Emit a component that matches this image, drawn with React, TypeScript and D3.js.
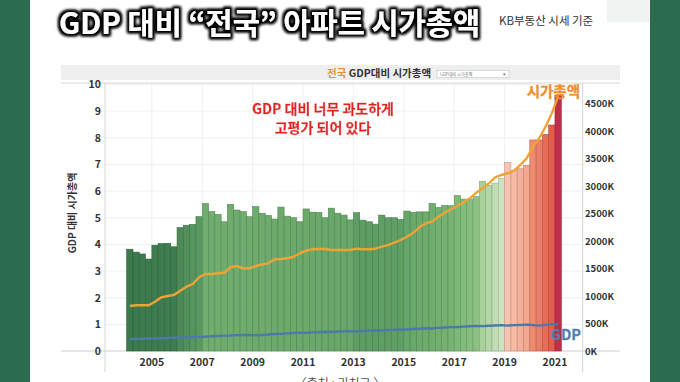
import React from 'react';
import * as d3 from 'd3';

const START_YEAR = 2004;

// GDP 대비 시가총액 (quarterly, 2004Q1 .. 2021Q1)
const ratio = [
  3.82, 3.71, 3.64, 3.45,
  3.97, 4.03, 4.04, 3.91,
  4.63, 4.72, 4.75, 5.04,
  5.54, 5.23, 5.13, 4.85,
  5.50, 5.29, 5.23, 5.04,
  5.42, 5.17, 5.08, 4.95,
  5.40, 5.06, 5.00, 4.85,
  5.33, 5.21, 5.20, 5.00,
  5.36, 5.17, 5.10, 4.92,
  5.19, 4.91, 4.85, 4.76,
  5.10, 5.00, 5.00, 4.94,
  5.25, 5.20, 5.22, 5.22,
  5.54, 5.38, 5.46, 5.45,
  5.83, 5.70, 5.69, 5.79,
  6.37, 6.22, 6.30, 6.48,
  7.07, 6.77, 6.84, 6.97,
  7.92, 7.92, 8.13, 8.48,
  9.60,
];

// 시가총액 (K)
const marketCap = [
  818, 831, 831, 831,
  896, 976, 1000, 1018,
  1096, 1169, 1218, 1340,
  1400, 1400, 1413, 1423,
  1522, 1545, 1504, 1504,
  1545, 1576, 1594, 1667,
  1673, 1685, 1714, 1776,
  1823, 1849, 1854, 1854,
  1836, 1836, 1836, 1836,
  1860, 1849, 1849, 1860,
  1896, 1927, 1969, 2018,
  2078, 2151, 2249, 2322,
  2351, 2442, 2514, 2576,
  2636, 2703, 2776, 2878,
  2958, 3049, 3158, 3200,
  3231, 3278, 3382, 3503,
  3714, 3867, 4078, 4321,
  4636,
];

// GDP (K)
const gdp = [
  214, 218, 222, 226,
  228, 232, 236, 240,
  240, 246, 250, 256,
  262, 268, 274, 280,
  282, 288, 292, 290,
  284, 292, 300, 308,
  312, 320, 326, 332,
  330, 338, 344, 350,
  346, 352, 356, 362,
  358, 364, 370, 378,
  374, 382, 386, 394,
  390, 400, 406, 414,
  410, 420, 426, 434,
  436, 444, 450, 456,
  452, 460, 464, 470,
  462, 470, 474, 480,
  470, 462, 476, 488,
  484,
];

const yearTicks = [2005, 2007, 2009, 2011, 2013, 2015, 2017, 2019, 2021];
const leftTicks = [0, 1, 2, 3, 4, 5, 6, 7, 8, 9, 10];
const rightTicks = [0, 500, 1000, 1500, 2000, 2500, 3000, 3500, 4000, 4500];

const titleText = 'GDP 대비 “전국” 아파트 시가총액';
const subText = 'KB부동산 시세 기준';
const noteLines = ['GDP 대비 너무 과도하게', '고평가 되어 있다'];

// colour ramp along the bars (style)
const colorStopIdx = [0, 7, 8, 11, 12, 24, 35, 36, 43, 44, 51, 52, 55, 56, 59, 60, 63, 64, 67, 68];
const colorStops = [
  '#3a7a4c', '#3d7d4f', '#4c8b58', '#5a9a61', '#6fae6f', '#6dab6c', '#68a76a', '#5e9e62',
  '#5f9f63', '#66a668', '#77b472', '#7eb978', '#8bc282', '#a9d19b', '#cbe3c0', '#f8c4b0',
  '#f4a68e', '#ef8b71', '#e35d4c', '#bd3049',
];

const FONT = "'Noto Sans CJK KR', 'Noto Sans', sans-serif";

export default function App() {
  const W = 680;
  const H = 382;
  const x = d3.scaleLinear().domain([2003.14, 2022.1]).range([105, 582.7]);
  const yL = d3.scaleLinear().domain([0, 10]).range([351, 84.5]);
  const yR = d3.scaleLinear().domain([0, 4845]).range([351, 84.5]);
  const color = d3.scaleLinear<string>().domain(colorStopIdx).range(colorStops).interpolate(d3.interpolateRgb);

  const tOf = (i: number) => START_YEAR + i / 4;
  const cx = (i: number) => x(tOf(i) + 0.125);

  const capLine = d3.line<number>().x((_, i) => cx(i)).y((d) => yR(d));
  const gdpLine = d3.line<number>().x((_, i) => cx(i)).y((d) => yR(d));

  const plotL = 105, plotR = 582.7, top = 83, base = 351;

  return (
    <svg width={W} height={H} style={{ position: 'absolute', left: 0, top: 0 }} fontFamily={FONT}>
      <defs>
        <filter id="glow" x="-10%" y="-30%" width="120%" height="160%">
          <feMorphology in="SourceAlpha" operator="dilate" radius="2.2" result="d" />
          <feGaussianBlur in="d" stdDeviation="1.6" result="b" />
          <feFlood floodColor="#000" result="f" />
          <feComposite in="f" in2="b" operator="in" result="s" />
          <feMerge>
            <feMergeNode in="s" />
            <feMergeNode in="s" />
            <feMergeNode in="SourceGraphic" />
          </feMerge>
        </filter>
        <filter id="soft" x="-5%" y="-20%" width="110%" height="140%">
          <feMorphology in="SourceAlpha" operator="dilate" radius="1.2" result="d" />
          <feFlood floodColor="#fff" result="f" />
          <feComposite in="f" in2="d" operator="in" result="s" />
          <feMerge>
            <feMergeNode in="s" />
            <feMergeNode in="SourceGraphic" />
          </feMerge>
        </filter>
      </defs>

      {/* background */}
      <rect x={0} y={0} width={W} height={H} fill="#2b6b4f" />
      <rect x={30} y={0} width={620} height={H} fill="#ffffff" />
      <rect x={607} y={0} width={43} height={22} fill="#f1f3f2" />

      {/* title */}
      <text x={59} y={34} fontSize={29.5} fontWeight={700} fill="#ffffff" filter="url(#glow)">
        {titleText}
      </text>
      <text x={499} y={25} fontSize={11.5} fill="#333">{subText}</text>

      {/* chart header */}
      <rect x={61} y={65} width={559} height={15} fill="#efefef" />
      <text x={327} y={76.5} fontSize={10.5} fontWeight={700} fill="#333">
        <tspan fill="#ef8f34">전국</tspan> GDP대비 시가총액
      </text>
      <rect x={437} y={70.5} width={72} height={7} fill="#fff" stroke="#c4c4c4" strokeWidth={0.6} />
      <text x={440} y={75.6} fontSize={4.2} fill="#777">GDP대비 시가총액</text>
      <text x={503} y={76} fontSize={5} fill="#777">▾</text>

      {/* gridlines */}
      {leftTicks.filter((t) => t > 0).map((t) => (
        <line key={'gy' + t} x1={plotL} x2={plotR} y1={yL(t)} y2={yL(t)} stroke="#ececec" strokeWidth={0.8} />
      ))}
      {yearTicks.map((t) => (
        <line key={'gx' + t} x1={x(t)} x2={x(t)} y1={top} y2={base} stroke="#ececec" strokeWidth={0.8} />
      ))}

      {/* frame */}
      <line x1={61} x2={620} y1={top} y2={top} stroke="#d6d6d6" strokeWidth={1} />
      <line x1={61} x2={620} y1={base} y2={base} stroke="#cfcfcf" strokeWidth={1} />
      <line x1={plotL} x2={plotL} y1={top} y2={372} stroke="#d6d6d6" strokeWidth={1} />
      <line x1={plotR} x2={plotR} y1={top} y2={372} stroke="#d6d6d6" strokeWidth={1} />

      {/* bars */}
      {ratio.map((v, i) => {
        const c = color(i);
        const x0 = x(tOf(i));
        const x1 = x(tOf(i + 1));
        return (
          <rect
            key={'b' + i}
            x={x0}
            y={yL(v)}
            width={x1 - x0}
            height={yL(0) - yL(v)}
            fill={c}
            stroke={d3.color(c)!.darker(0.7).formatHex()}
            strokeWidth={0.6}
          />
        );
      })}

      {/* lines */}
      <path d={gdpLine(gdp) || ''} fill="none" stroke="#4a7aa8" strokeWidth={2.4} strokeLinejoin="round" />
      <path d={capLine(marketCap) || ''} fill="none" stroke="#efa336" strokeWidth={2.4} strokeLinejoin="round" />

      {/* left axis */}
      {leftTicks.map((t) => (
        <text key={'l' + t} x={101} y={yL(t) + 3.8} fontSize={10.5} fontWeight={700} fill="#333" textAnchor="end">
          {t}
        </text>
      ))}
      <text
        transform={`translate(76,${213}) rotate(-90)`}
        fontSize={10}
        fontWeight={700}
        fill="#333"
        textAnchor="middle"
      >
        GDP 대비 시가총액
      </text>

      {/* right axis */}
      {rightTicks.map((t) => (
        <text key={'r' + t} x={585} y={yR(t) + 3.8} fontSize={9.5} fontWeight={700} fill="#333">
          {t}K
        </text>
      ))}

      {/* x axis */}
      {yearTicks.map((t) => (
        <text key={'x' + t} x={x(t)} y={366} fontSize={10.5} fontWeight={700} fill="#333" textAnchor="middle">
          {t}
        </text>
      ))}

      {/* annotations */}
      <text x={580} y={97} fontSize={14.5} fontWeight={700} fill="#f08d2c" stroke="#f08d2c" strokeWidth={0.3} textAnchor="end">
        시가총액
      </text>
      <text x={581} y={340} fontSize={14.5} fontWeight={700} fill="#4f7fb4" stroke="#4f7fb4" strokeWidth={0.3} textAnchor="end">
        GDP
      </text>
      {noteLines.map((s, k) => (
        <text
          key={'n' + k}
          x={323}
          y={113.5 + k * 19}
          fontSize={14}
          fontWeight={700}
          fill="#e3211f"
          stroke="#e3211f"
          strokeWidth={0.45}
          textAnchor="middle"
          filter="url(#soft)"
        >
          {s}
        </text>
      ))}

      {/* source */}
      <text x={340} y={388} fontSize={12} fill="#555" textAnchor="middle">〈출처 : 리치고 〉</text>
    </svg>
  );
}
